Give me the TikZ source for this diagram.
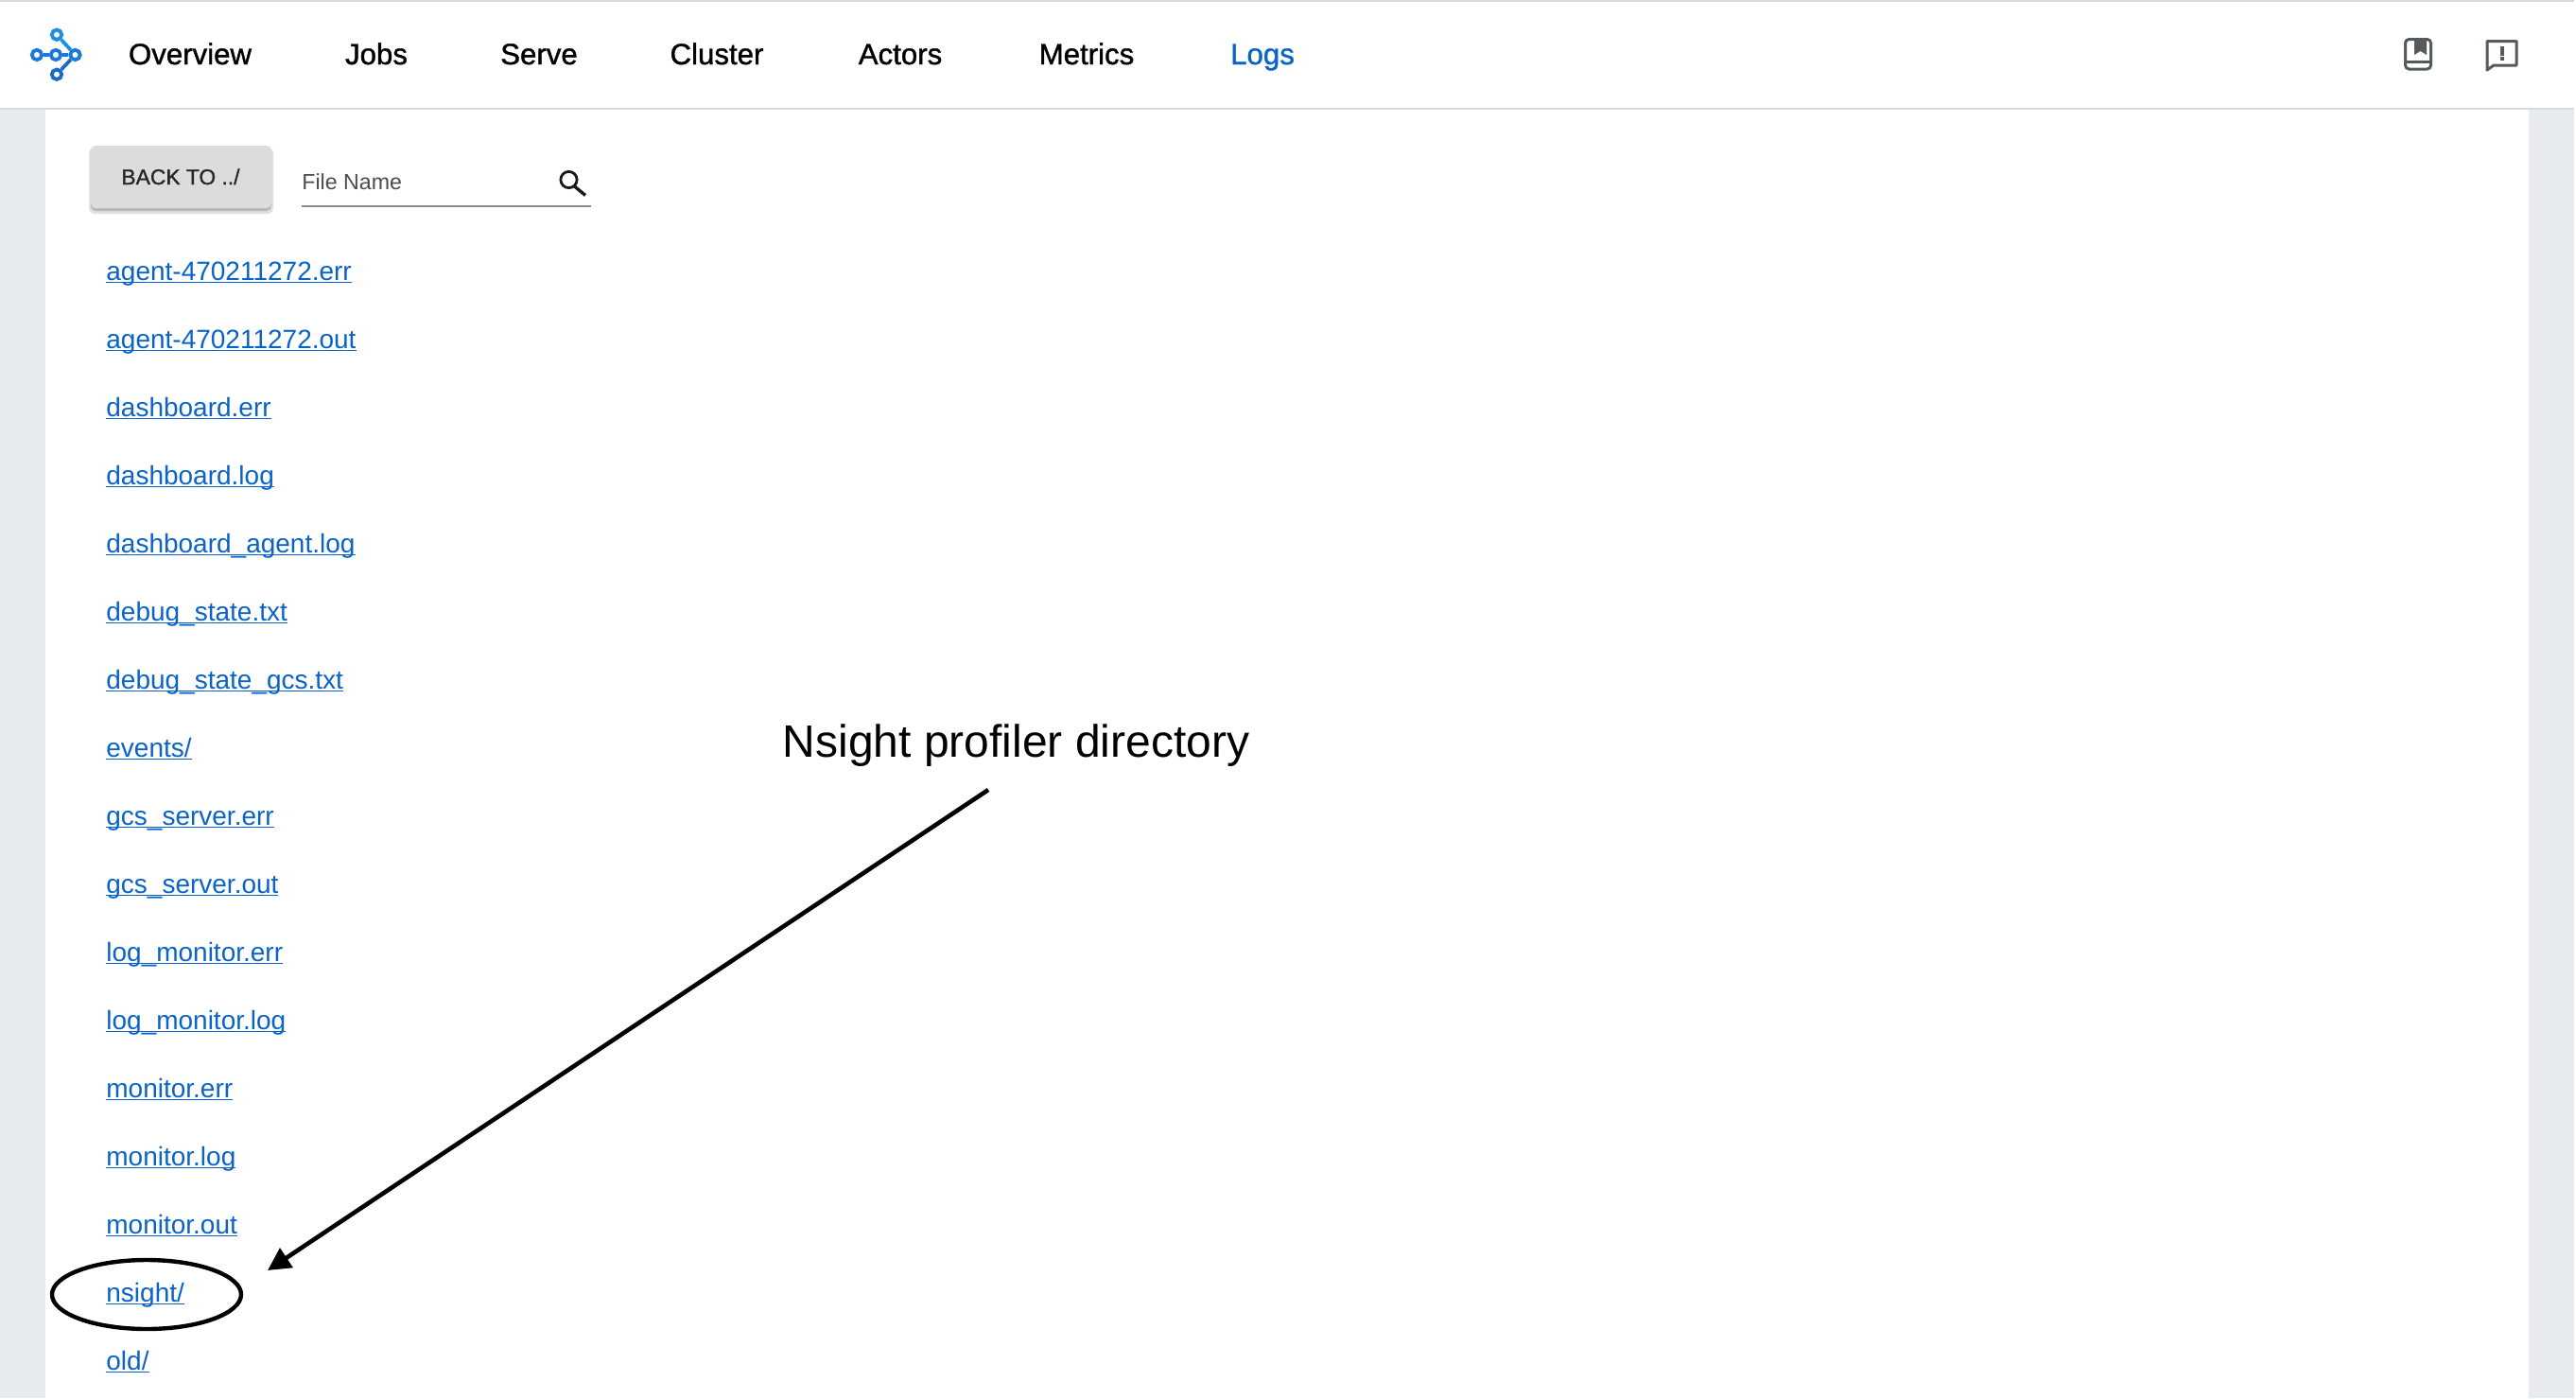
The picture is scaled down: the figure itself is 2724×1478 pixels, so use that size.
\documentclass[tikz,border=0pt]{standalone}
\usepackage{fontspec}
\usetikzlibrary{shapes.geometric,arrows.meta}
\setmainfont{Liberation Sans}
\newfontfamily\medfont[FakeBold=1.2]{Liberation Sans}
\definecolor{pagebg}{HTML}{E8EBEE}
\definecolor{navline}{HTML}{D3DCE5}
\definecolor{topline}{HTML}{D8D8D8}
\definecolor{linkblue}{HTML}{0A63C8}
\definecolor{iconinkgray}{HTML}{555A5F}
\definecolor{btngray}{HTML}{DCDCDC}
\definecolor{logoa}{HTML}{1A8FE8}
\definecolor{logob}{HTML}{1A78DC}
\definecolor{logoc}{HTML}{1C6AC8}
\newsavebox{\lnkbox}
\newlength{\lnkw}
\newcommand{\lnk}[1]{\sbox{\lnkbox}{#1}\setlength{\lnkw}{\wd\lnkbox}\usebox{\lnkbox}\hspace{-\lnkw}\rule[-1.7pt]{\lnkw}{0.85pt}}
\tikzset{
  x=0.5pt,y=-0.5pt,
  navtext/.style={anchor=base,inner sep=0pt,font=\medfont\fontsize{15.6pt}{18pt}\selectfont,text=black},
  linktext/.style={anchor=base west,inner sep=0pt,font=\fontsize{14pt}{16pt}\selectfont,text=linkblue},
  logoline/.style={line width=1.9pt,draw=#1},
  logonode/.style={circle,draw=#1,line width=1.9pt,fill=white,minimum size=5.2pt,inner sep=0pt},
  ovalmark/.style={draw=black,line width=2.2pt},
  pointer/.style={draw=black,line width=2.3pt,-{Triangle[length=12pt,width=12pt]}},
}
\begin{document}
\begin{tikzpicture}
\useasboundingbox (0,0) rectangle (2724,1478);
\fill[pagebg] (0,0) rectangle (2724,1478);
\fill[white] (48,116) rectangle (2674,1478);
\fill[white] (0,0) rectangle (2724,115);
\fill[topline] (0,0) rectangle (2724,2);
\fill[navline] (0,113.5) rectangle (2724,116);
\fill[white] (2722,0) rectangle (2724,1478);
% logo
\node[logonode=logoa] (ltop) at (60,36.7) {};
\node[logonode=logob] (lleft) at (39,58) {};
\node[logonode=logob] (lmid) at (59,58) {};
\node[logonode=logob] (lright) at (79.5,58) {};
\node[logonode=logoc] (lbot) at (60,78.7) {};
\draw[logoline=logoa] (ltop) -- (lright);
\draw[logoline=logoc] (lbot) -- (lright);
\draw[logoline=logob] (lleft) -- (lmid);
\draw[logoline=logob] (lmid) -- (lright);
% nav
\node[navtext] (n1) at (201,68) {Overview};
\node[navtext] (n2) at (398,68) {Jobs};
\node[navtext] (n3) at (570,68) {Serve};
\node[navtext] (n4) at (758,68) {Cluster};
\node[navtext] (n5) at (952,68) {Actors};
\node[navtext] (n6) at (1149,68) {Metrics};
\node[navtext,text=linkblue] (n7) at (1335,68) {Logs};
% right icons
\draw[iconinkgray,line width=1.5pt,rounded corners=2pt] (2543.5,41.5) rectangle (2570.5,73);
\draw[iconinkgray,line width=1.5pt] (2543.5,65) -- (2570.5,65);
\fill[iconinkgray] (2553,41.5) -- (2566,41.5) -- (2566,58) -- (2559.5,54) -- (2553,58) -- cycle;
\draw[iconinkgray,line width=1.5pt,line join=round] (2630,43.5) -- (2661,43.5) -- (2661,69) -- (2637,69) -- (2630,74) -- cycle;
\fill[iconinkgray] (2643.5,49) rectangle (2647.5,58.5);
\fill[iconinkgray] (2643.5,60) rectangle (2647.5,63.5);
% button
\fill[black!12,rounded corners=3pt] (94,156) rectangle (289,226);
\fill[black!28,rounded corners=2.5pt] (96,158) rectangle (287,223);
\fill[btngray,rounded corners=2.5pt] (96,154) rectangle (287,220);
\node[anchor=base,inner sep=0pt,font=\medfont\fontsize{11.4pt}{15pt}\selectfont,text=black!85] (back) at (191,195) {BACK TO ../};
% search
\node[anchor=base west,inner sep=0pt,font=\fontsize{11.6pt}{15pt}\selectfont,text=black!70] (fname) at (319,200) {File Name};
\fill[black!45] (319,217) rectangle (625,219);
\draw[black!90,line width=1.4pt] (601.5,190) circle [radius=8.6];
\draw[black!90,line width=1.7pt] (607.5,197) -- (619,206.5);
% links
\foreach \i/\t in {0/agent-470211272.err,1/agent-470211272.out,2/dashboard.err,3/dashboard.log,4/dashboard\_agent.log,5/debug\_state.txt,6/debug\_state\_gcs.txt,7/{events/},8/gcs\_server.err,9/gcs\_server.out,10/log\_monitor.err,11/log\_monitor.log,12/monitor.err,13/monitor.log,14/monitor.out,15/{nsight/},16/{old/}}{
  \node[linktext] (link\i) at (112,{296+72*\i}) {\lnk{\t}};
}
% annotation
\node[anchor=base,inner sep=0pt,font=\fontsize{24pt}{30pt}\selectfont,text=black] (anno) at (1074.5,800.5) {Nsight profiler directory};
\node[ellipse,ovalmark,minimum width=100pt,minimum height=36.5pt,inner sep=0pt] (oval) at (155,1368.5) {};
\coordinate (astart) at (1045,835);
\coordinate (atip) at (283,1343);
\draw[pointer] (astart) -- (atip);
\end{tikzpicture}
\end{document}
